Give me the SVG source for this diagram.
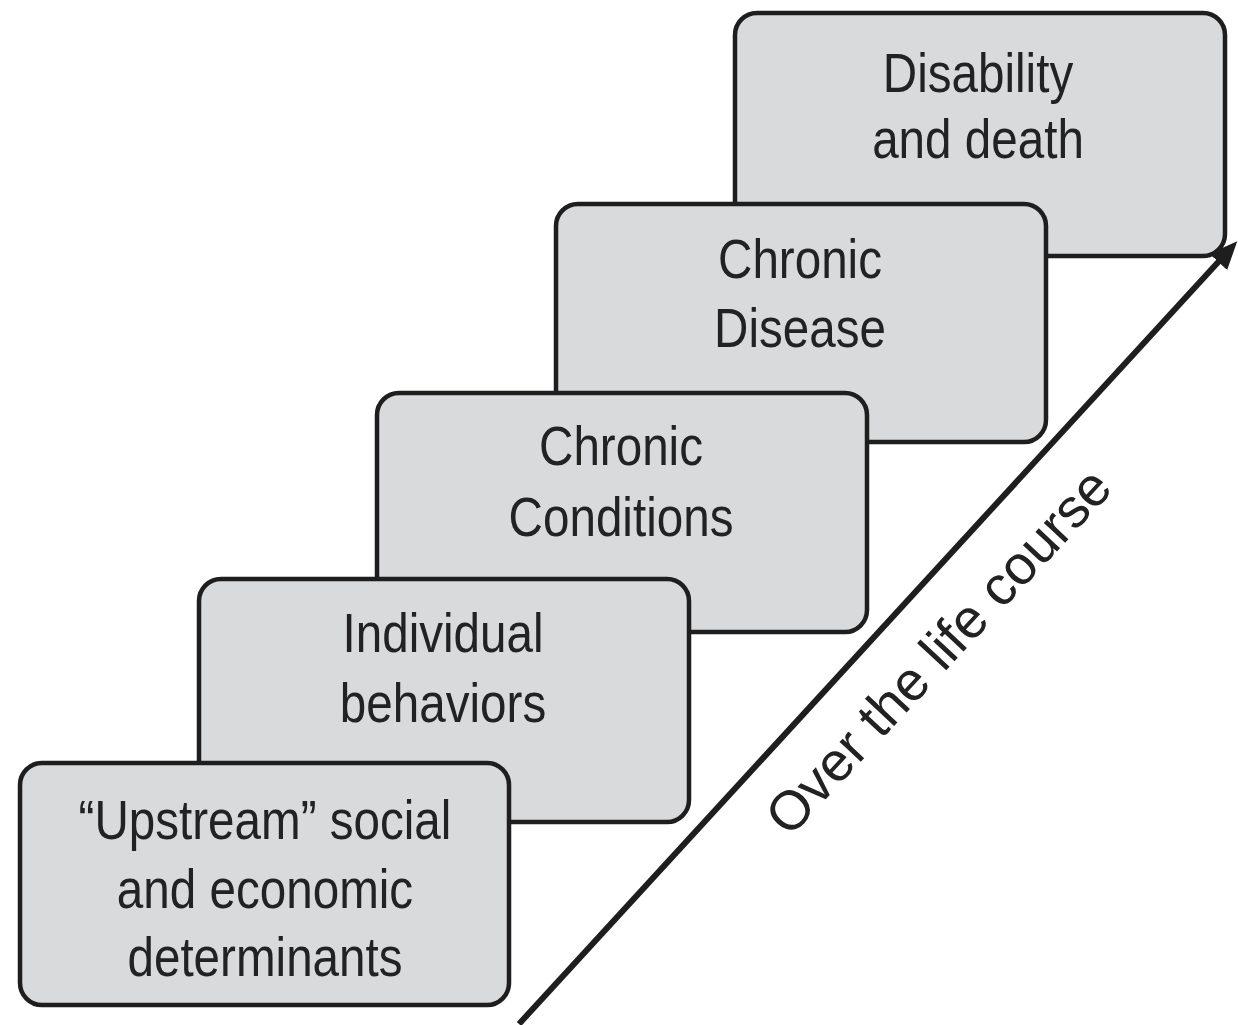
<svg xmlns="http://www.w3.org/2000/svg" width="1238" height="1025" viewBox="0 0 1238 1025">
<style>
.box{fill:#d9dadc;stroke:#1e1e1e;stroke-width:4.5}
.t{font-family:"Liberation Sans",Arial,sans-serif;font-size:56px;fill:#222;text-anchor:middle}
.lbl{font-family:"Liberation Sans",Arial,sans-serif;font-size:55px;fill:#222;text-anchor:middle}
</style>
<defs>
<marker id="ah" markerWidth="30" markerHeight="26" refX="4" refY="12" orient="auto" markerUnits="userSpaceOnUse">
<path d="M0,0 L28,12 L0,24 Z" fill="#1e1e1e"/>
</marker>
</defs>
<rect width="1238" height="1025" fill="#fff"/>
<g id="node-disability">
<rect class="box" x="735" y="13" width="490" height="243" rx="22"/>
<g transform="translate(978,0) scale(0.85,1)">
<text class="t" x="0" y="92">Disability</text>
<text class="t" x="0" y="158">and death</text>
</g>
</g>
<g id="node-disease">
<rect class="box" x="556" y="204" width="490" height="238" rx="22"/>
<g transform="translate(800,0) scale(0.85,1)">
<text class="t" x="0" y="278">Chronic</text>
<text class="t" x="0" y="347">Disease</text>
</g>
</g>
<g id="node-conditions">
<rect class="box" x="377" y="393" width="490" height="239" rx="22"/>
<g transform="translate(621,0) scale(0.85,1)">
<text class="t" x="0" y="465">Chronic</text>
<text class="t" x="0" y="536">Conditions</text>
</g>
</g>
<g id="node-behaviors">
<rect class="box" x="199" y="579" width="490" height="243" rx="22"/>
<g transform="translate(443,0) scale(0.85,1)">
<text class="t" x="0" y="652">Individual</text>
<text class="t" x="0" y="722">behaviors</text>
</g>
</g>
<g id="node-upstream">
<rect class="box" x="20" y="763" width="489" height="242" rx="22"/>
<g transform="translate(265,0) scale(0.85,1)">
<text class="t" x="0" y="839">“Upstream” social</text>
<text class="t" x="0" y="908">and economic</text>
<text class="t" x="0" y="976">determinants</text>
</g>
</g>
<g id="connectors">
<line x1="519" y1="1024" x2="1221" y2="259" stroke="#1e1e1e" stroke-width="6" marker-end="url(#ah)"/>
<text class="lbl" transform="translate(952,664) rotate(-47)" x="0" y="0">Over the life course</text>
</g>
</svg>
